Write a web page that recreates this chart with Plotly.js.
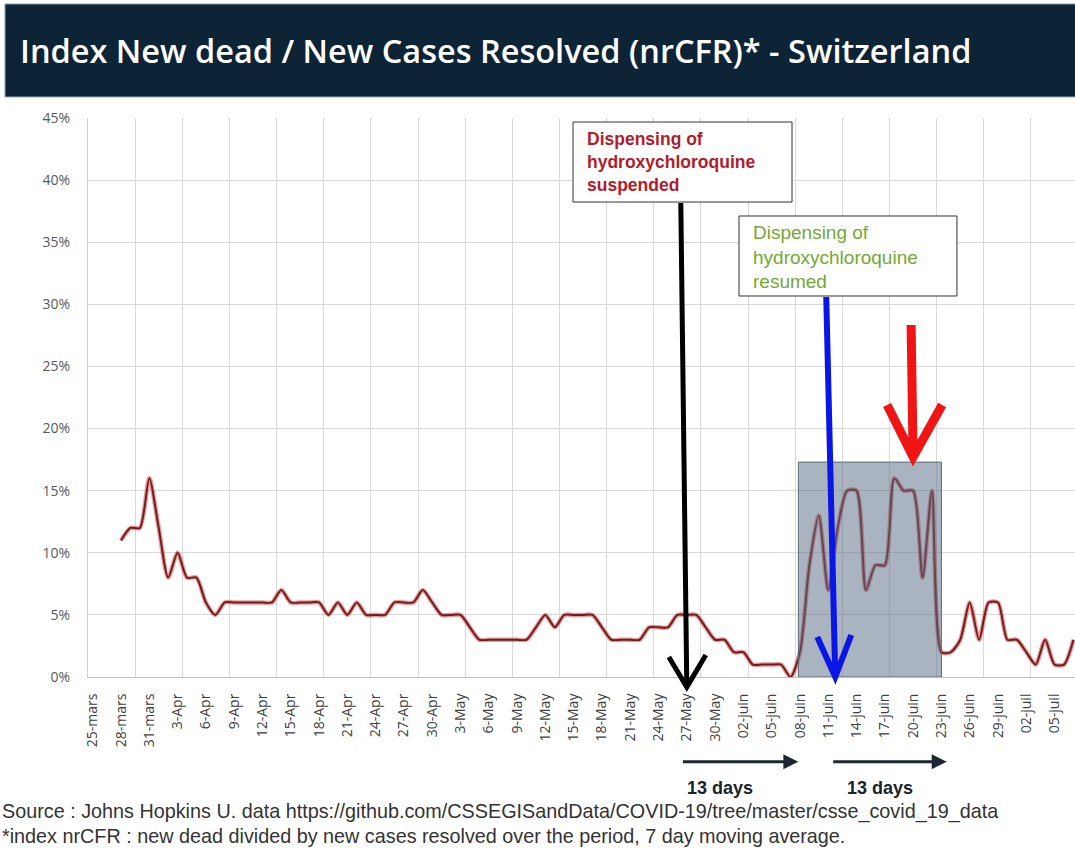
<!DOCTYPE html>
<html><head><meta charset="utf-8">
<script src="https://cdn.plot.ly/plotly-3.0.1.min.js"></script>
<style>html,body{margin:0;padding:0;background:#fff;} #chart{width:1075px;height:848px;}</style>
</head><body><div id="chart"></div>
<script>
// ---- data ----
const firstDate = '2020-03-28';           // first day with a value (daily series)
const nrcfr = [
  11, 12, 12, 16, 12, 8, 10, 8, 8, 6,          // 28-mars .. 6-Apr
  5, 6, 6, 6, 6, 6, 6, 7, 6, 6,                // 7-Apr .. 16-Apr
  6, 6, 5, 6, 5, 6, 5, 5, 5, 6,                // 17-Apr .. 26-Apr
  6, 6, 7, 6, 5, 5, 5, 4, 3, 3,                // 27-Apr .. 6-May
  3, 3, 3, 3, 4, 5, 4, 5, 5, 5,                // 7-May .. 16-May
  5, 4, 3, 3, 3, 3, 4, 4, 4, 5,                // 17-May .. 26-May
  5, 5, 4, 3, 3, 2, 2, 1, 1, 1,                // 27-May .. 05-juin
  1, 0, 2, 9, 13, 7, 12, 15, 15, 7,            // 06-juin .. 15-juin
  9, 9, 16, 15, 15, 8, 15, 2, 2, 3,            // 16-juin .. 25-juin
  6, 3, 6, 6, 3, 3, 2, 1, 3, 1,                // 26-juin .. 05-juil
  1, 3                                         // 06-juil .. 07-juil
];
const tickDates = ['2020-03-25','2020-03-28','2020-03-31','2020-04-03','2020-04-06','2020-04-09','2020-04-12',
  '2020-04-15','2020-04-18','2020-04-21','2020-04-24','2020-04-27','2020-04-30','2020-05-03','2020-05-06',
  '2020-05-09','2020-05-12','2020-05-15','2020-05-18','2020-05-21','2020-05-24','2020-05-27','2020-05-30',
  '2020-06-02','2020-06-05','2020-06-08','2020-06-11','2020-06-14','2020-06-17','2020-06-20','2020-06-23',
  '2020-06-26','2020-06-29','2020-07-02','2020-07-05'];
const tickLabels = ['25-mars','28-mars','31-mars','3-Apr','6-Apr','9-Apr','12-Apr','15-Apr','18-Apr','21-Apr',
  '24-Apr','27-Apr','30-Apr','3-May','6-May','9-May','12-May','15-May','18-May','21-May','24-May','27-May',
  '30-May','02-juin','05-juin','08-juin','11-juin','14-juin','17-juin','20-juin','23-juin','26-juin','29-juin',
  '02-juil','05-juil'];
const yTicks = [0, 5, 10, 15, 20, 25, 30, 35, 40, 45];
const yTickLabels = ['0%','5%','10%','15%','20%','25%','30%','35%','40%','45%'];

const titleText = 'Index New dead / New Cases Resolved (nrCFR)* - Switzerland';
const noteSuspended = 'Dispensing of<br>hydroxychloroquine<br>suspended';
const noteResumed = 'Dispensing of<br>hydroxychloroquine<br>resumed';
const daysLabel = '13 days';
const sourceLine1 = 'Source : Johns Hopkins U. data https://github.com/CSSEGISandData/COVID-19/tree/master/csse_covid_19_data';
const sourceLine2 = '*index nrCFR : new dead divided by new cases resolved over the period, 7 day moving average.';

// ---- chart ----
const DAY = 86400000;
const traces = [
  {type:'scatter', mode:'lines', x0:firstDate, dx:DAY, y:nrcfr,
   line:{color:'rgba(220,70,70,0.55)', width:4.5, shape:'spline', smoothing:0.7}, hoverinfo:'skip'},
  {type:'scatter', mode:'lines', x0:firstDate, dx:DAY, y:nrcfr,
   line:{color:'#6e1e1e', width:2, shape:'spline', smoothing:0.7}, hoverinfo:'skip'}
];

const fontAx = 'Open Sans, Noto Sans, sans-serif';
const fontArial = 'Liberation Sans, Arial, sans-serif';

const shapes = [
  // title band
  {type:'rect', xref:'paper', yref:'paper', x0:-0.0841, x1:1.01, y0:1.0376, y1:1.204,
   fillcolor:'#0d2336', line:{color:'#90a4b4', width:1}, layer:'above'},
  // shaded period box
  {type:'rect', xref:'x', yref:'y', x0:'2020-06-07 20:00', x1:'2020-06-23 00:00', y0:0, y1:17.3,
   fillcolor:'rgba(92,110,135,0.52)', line:{color:'#5d6873', width:1}, layer:'above'},
  // text boxes
  {type:'rect', xref:'paper', yref:'paper', x0:0.4914, x1:0.7133, y0:0.8497, y1:0.9928,
   fillcolor:'#ffffff', line:{color:'#333333', width:1}, layer:'above'},
  {type:'rect', xref:'paper', yref:'paper', x0:0.6596, x1:0.8804, y0:0.6816, y1:0.8247,
   fillcolor:'#ffffff', line:{color:'#333333', width:1}, layer:'above'},
  // black arrow (tip at 27-May)
  {type:'path', xref:'x', yref:'paper', xsizemode:'pixel', ysizemode:'pixel',
   xanchor:'2020-05-27', yanchor:-0.018,
   path:'M -6 484 L 0 0 M -18 30 L 0 0 L 19 32', line:{color:'#000000', width:5}, layer:'above'},
  // blue arrow
  {type:'path', xref:'x', yref:'paper', xsizemode:'pixel', ysizemode:'pixel',
   xanchor:'2020-06-11', yanchor:0,
   path:'M -2 380 L 7 0 M -11 40 L 7 0 L 23 42', line:{color:'#0a16e6', width:6}, layer:'above'},
  // red arrow
  {type:'path', xref:'x', yref:'paper', xsizemode:'pixel', ysizemode:'pixel',
   xanchor:'2020-06-20', yanchor:0.3936,
   path:'M -2 132 L 0 0 M -26 52 L 0 0 L 29 52', line:{color:'#f01414', width:9}, layer:'above'}
];

const annotations = [
  {xref:'paper', yref:'paper', x:0.5036, y:0.9204, xanchor:'left', yanchor:'middle', align:'left',
   text:noteSuspended, showarrow:false, font:{family:fontArial, size:17.5, color:'#b21c2a', weight:'bold'}},
  {xref:'paper', yref:'paper', x:0.6717, y:0.7513, xanchor:'left', yanchor:'middle', align:'left',
   text:noteResumed, showarrow:false, font:{family:fontArial, size:19, color:'#74a832'}},
  // 13 days arrows
  {xref:'paper', yref:'paper', x:0.7197, y:-0.1515, ax:-117, ay:0, text:'', showarrow:true,
   arrowhead:2, arrowsize:1, arrowwidth:3, arrowcolor:'#1c2733', standoff:0, startstandoff:0},
  {xref:'paper', yref:'paper', x:0.870, y:-0.1515, ax:-115, ay:0, text:'', showarrow:true,
   arrowhead:2, arrowsize:1, arrowwidth:3, arrowcolor:'#1c2733', standoff:0, startstandoff:0},
  {xref:'paper', yref:'paper', x:0.6403, y:-0.1986, xanchor:'center', yanchor:'middle', text:daysLabel, showarrow:false,
   font:{family:fontArial, size:18, color:'#1c2229', weight:'bold'}},
  {xref:'paper', yref:'paper', x:0.8024, y:-0.1986, xanchor:'center', yanchor:'middle', text:daysLabel, showarrow:false,
   font:{family:fontArial, size:18, color:'#1c2229', weight:'bold'}},
  // source lines
  {xref:'paper', yref:'paper', x:-0.0892, y:-0.2415, xanchor:'left', yanchor:'middle', text:sourceLine1,
   showarrow:false, font:{family:fontArial, size:19.8, color:'#333333'}},
  {xref:'paper', yref:'paper', x:-0.0892, y:-0.2844, xanchor:'left', yanchor:'middle', text:sourceLine2,
   showarrow:false, font:{family:fontArial, size:19.8, color:'#333333'}}
];

const layout = {
  width:1075, height:848,
  margin:{l:88, r:0, t:118, b:171, pad:0},
  paper_bgcolor:'#ffffff', plot_bgcolor:'#ffffff',
  showlegend:false,
  title:{text:titleText, x:0.0186, xanchor:'left', xref:'container', y:0.9387, yref:'container', yanchor:'middle',
         font:{family:fontAx, size:32.5, color:'#ffffff', weight:600}},
  xaxis:{type:'date', range:['2020-03-24 12:00','2020-07-07 04:00'],
    tickmode:'array', tickvals:tickDates, ticktext:tickLabels, tickangle:-90,
    tickfont:{family:fontAx, size:14, color:'#404040'}, ticks:'', ticklabelstandoff:10,
    showgrid:false, zeroline:false, showline:true, linecolor:'#bfbfbf', linewidth:1,
    minor:{tick0:'2020-03-29 12:00', dtick:5*DAY, showgrid:true, gridcolor:'#d9d9d9', gridwidth:1, ticks:''},
    fixedrange:true},
  yaxis:{range:[0,45], tickmode:'array', tickvals:yTicks, ticktext:yTickLabels,
    showgrid:true, gridcolor:'#d9d9d9', gridwidth:1, zeroline:false,
    showline:true, linecolor:'#d0d0d0', linewidth:1,
    tickfont:{family:fontAx, size:14, color:'#595959'}, ticks:'', ticklabelstandoff:14, fixedrange:true},
  shapes:shapes,
  annotations:annotations
};

Plotly.newPlot('chart', traces, layout, {displayModeBar:false, staticPlot:true});
</script>
</body></html>
